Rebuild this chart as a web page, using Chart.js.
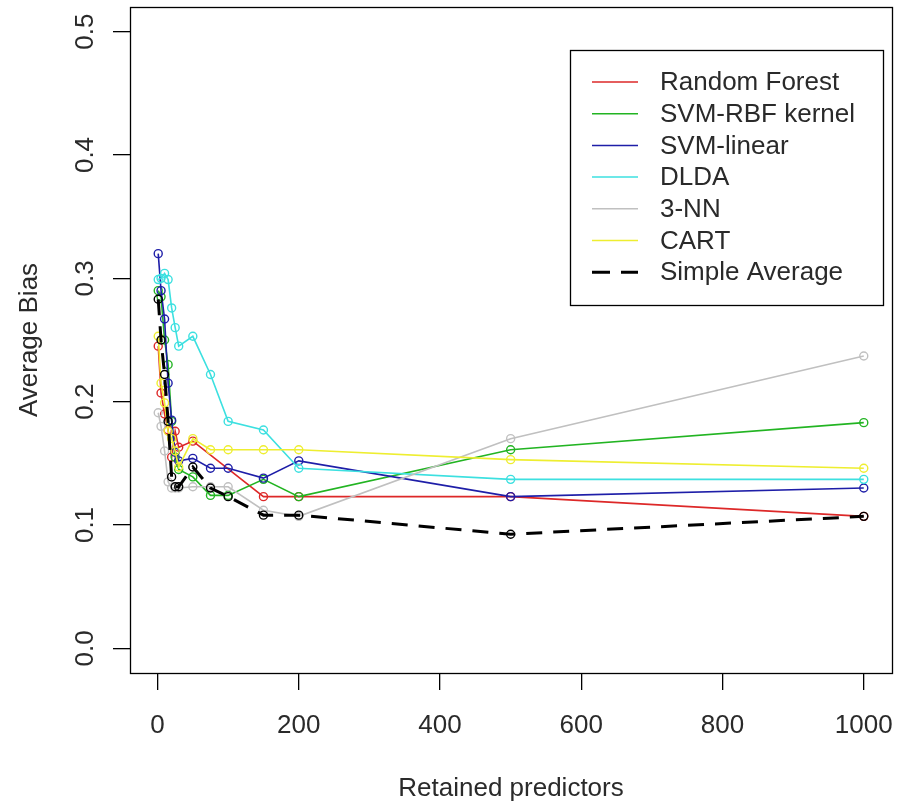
<!DOCTYPE html>
<html>
<head>
<meta charset="utf-8">
<script src="https://cdn.jsdelivr.net/npm/chart.js@4/dist/chart.umd.min.js"></script>
<style>
  html, body { margin: 0; padding: 0; background: #fff; }
  canvas { display: block; }
</style>
</head>
<body>
<canvas id="biasChart" width="898" height="804"></canvas>
<script>
// values (null = no point at that size)
const predictors = [1, 5, 10, 15, 20, 25, 30, 50, 75, 100, 150, 200, 500, 1000];
const xTicks = [0, 200, 400, 600, 800, 1000];
const yTicks = [0, 0.1, 0.2, 0.3, 0.4, 0.5];

const randomForest = [0.245, 0.207, 0.190, 0.177, 0.155, 0.176, 0.163, 0.168, null, null, 0.123, 0.123, 0.123, 0.107];
const svmRbf       = [0.290, 0.285, 0.250, 0.230, 0.184, 0.155, 0.145, 0.139, 0.124, 0.124, 0.137, 0.123, 0.161, 0.183];
const svmLinear    = [0.320, 0.290, 0.267, 0.215, 0.185, 0.159, 0.152, 0.154, 0.146, 0.146, 0.138, 0.152, 0.123, 0.130];
const dlda         = [0.299, 0.300, 0.304, 0.299, 0.276, 0.260, 0.245, 0.253, 0.222, 0.184, 0.177, 0.146, 0.137, 0.137];
const knn3         = [0.191, 0.180, 0.160, 0.135, 0.130, 0.130, 0.130, 0.131, 0.131, 0.131, 0.112, 0.107, 0.170, 0.237];
const cart         = [0.253, 0.215, 0.199, 0.176, 0.170, 0.160, 0.147, 0.170, 0.161, 0.161, 0.161, 0.161, 0.153, 0.146];
const simpleAvg    = [0.283, 0.250, 0.222, 0.184, 0.139, 0.131, 0.131, 0.147, 0.130, 0.123, 0.108, 0.108, 0.0925, 0.107];

const FONT = "'Liberation Sans', Arial, sans-serif";

function series(label, values, color, order, dashed) {
  return {
    label: label,
    data: values.map((v, i) => ({ x: predictors[i], y: v })),
    borderColor: color,
    borderWidth: dashed ? 3 : 1.6,
    borderDash: dashed ? [16, 11] : [],
    pointStyle: "circle",
    pointRadius: 4,
    pointBorderWidth: 1.4,
    pointBorderColor: color,
    pointBackgroundColor: "rgba(0,0,0,0)",
    showLine: true,
    spanGaps: true,
    fill: false,
    tension: 0,
    order: order
  };
}

const datasets = [
  series("Random Forest", randomForest, "#DD2828", 7),
  series("SVM-RBF kernel", svmRbf, "#22B422", 6),
  series("SVM-linear", svmLinear, "#1E1EA8", 5),
  series("DLDA", dlda, "#3CE0E0", 4),
  series("3-NN", knn3, "#C0C0C0", 3),
  series("CART", cart, "#EEEE30", 2),
  series("Simple Average", simpleAvg, "#000000", 1, true)
];

// box, rotated y labels and the inset legend
const rPlotExtras = {
  id: "rPlotExtras",
  afterDraw(chart) {
    const ctx = chart.ctx;
    const a = chart.chartArea;
    const y = chart.scales.y;
    ctx.save();
    ctx.strokeStyle = "#000";
    ctx.lineWidth = 1.3;
    ctx.setLineDash([]);
    ctx.strokeRect(a.left + 0.5, a.top + 0.5, a.right - a.left, a.bottom - a.top);

    ctx.fillStyle = "#2a2a2a";
    ctx.font = "26px " + FONT;
    ctx.textAlign = "center";
    ctx.textBaseline = "middle";
    yTicks.forEach(v => {
      const py = y.getPixelForValue(v);
      ctx.save();
      ctx.translate(86, py);
      ctx.rotate(-Math.PI / 2);
      ctx.fillText(v.toFixed(1), 0, 0);
      ctx.restore();
    });

    // legend
    const lx = 570, ly = 50, lw = 313, lh = 255;
    ctx.fillStyle = "#fff";
    ctx.fillRect(lx, ly, lw, lh);
    ctx.strokeRect(lx + 0.5, ly + 0.5, lw, lh);
    ctx.textAlign = "left";
    ctx.font = "26px " + FONT;
    chart.data.datasets.forEach((ds, i) => {
      const ry = 82 + i * 31.7;
      ctx.strokeStyle = ds.borderColor;
      ctx.lineWidth = ds.borderWidth > 2 ? 3 : 1.5;
      ctx.setLineDash(ds.borderWidth > 2 ? [18, 11] : []);
      ctx.beginPath();
      ctx.moveTo(592, ry);
      ctx.lineTo(638, ry);
      ctx.stroke();
      ctx.fillStyle = "#2a2a2a";
      ctx.fillText(ds.label, 660, ry + 1);
    });
    ctx.restore();
  }
};

new Chart(document.getElementById("biasChart"), {
  type: "line",
  data: { datasets: datasets },
  options: {
    responsive: false,
    animation: false,
    layout: { padding: { top: 7, right: 6, left: 0, bottom: 0 } },
    plugins: {
      legend: { display: false },
      tooltip: { enabled: false }
    },
    scales: {
      x: {
        type: "linear",
        min: -38.96,
        max: 1039.96,
        afterBuildTicks: s => { s.ticks = xTicks.map(v => ({ value: v })); },
        afterFit: s => { s.height = 131; s.paddingLeft = 0; s.paddingRight = 0; },
        grid: { drawOnChartArea: false, tickLength: 17, color: "#000", lineWidth: 1.3 },
        border: { display: false },
        ticks: {
          color: "#2a2a2a",
          font: { family: FONT, size: 26 },
          padding: 20,
          maxRotation: 0,
          minRotation: 0,
          callback: v => String(v)
        },
        title: {
          display: true,
          text: "Retained predictors",
          color: "#2a2a2a",
          font: { family: FONT, size: 26 },
          padding: { top: 0, bottom: 0 }
        }
      },
      y: {
        type: "linear",
        min: -0.02,
        max: 0.52,
        afterBuildTicks: s => { s.ticks = yTicks.map(v => ({ value: v })); },
        afterFit: s => { s.width = 130; s.paddingTop = 0; s.paddingBottom = 0; },
        grid: { drawOnChartArea: false, tickLength: 17, color: "#000", lineWidth: 1.3 },
        border: { display: false },
        ticks: { display: false },
        title: {
          display: true,
          text: "Average Bias",
          color: "#2a2a2a",
          font: { family: FONT, size: 26 },
          padding: { top: 14, bottom: 0 }
        }
      }
    }
  },
  plugins: [rPlotExtras]
});
</script>
</body>
</html>
